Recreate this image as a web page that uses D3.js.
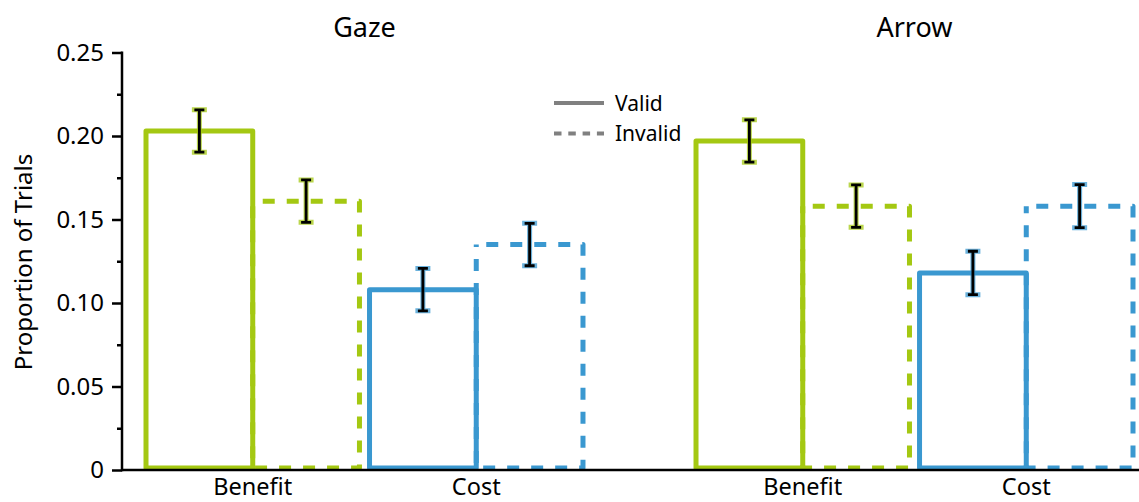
<!DOCTYPE html>
<html>
<head>
<meta charset="utf-8">
<script src="https://cdn.jsdelivr.net/npm/d3@7"></script>
<style>
  html, body { margin: 0; padding: 0; background: #fff; }
  svg { display: block; font-family: "Noto Sans", "Open Sans", sans-serif; }
</style>
</head>
<body>
<svg id="chart" width="1139" height="502"></svg>
<script>
// Panels, conditions and cue types
const panels = ["Gaze", "Arrow"];
const conditions = ["Benefit", "Cost"];
const cueTypes = ["Valid", "Invalid"];

// Mean proportion of trials, ordered Benefit-Valid, Benefit-Invalid, Cost-Valid, Cost-Invalid
const gazeMeans = [0.203, 0.161, 0.108, 0.135];
const arrowMeans = [0.197, 0.158, 0.118, 0.158];

// Error bar half-widths, same order
const gazeErrors = [0.0127, 0.0127, 0.0127, 0.0127];
const arrowErrors = [0.0127, 0.0127, 0.013, 0.0129];

// Y axis ticks
const yMajorTicks = [0, 0.05, 0.10, 0.15, 0.20, 0.25];
const yMinorTicks = [0.025, 0.075, 0.125, 0.175, 0.225];
const yTickLabels = ["0", "0.05", "0.10", "0.15", "0.20", "0.25"];

const conditionColors = { Benefit: "#a4c812", Cost: "#3a98d0" };

const svg = d3.select("#chart");
const baseY = 470;

const y = d3.scaleLinear().domain([0, 0.25]).range([baseY, 52.5]);

const xPanel = d3.scaleBand().domain(panels).range([146, 1133])
  .paddingInner(0.2055).paddingOuter(0);
const xCond = d3.scaleBand().domain(conditions).range([0, xPanel.bandwidth()])
  .paddingInner(0.045).paddingOuter(0);
const xCue = d3.scaleBand().domain(cueTypes).range([0, xCond.bandwidth()])
  .padding(0);

const meansByPanel = { Gaze: gazeMeans, Arrow: arrowMeans };
const errorsByPanel = { Gaze: gazeErrors, Arrow: arrowErrors };

const records = [];
panels.forEach(p => {
  conditions.forEach((c, ci) => {
    cueTypes.forEach((t, ti) => {
      const k = ci * 2 + ti;
      records.push({ panel: p, cond: c, cue: t,
        mean: meansByPanel[p][k], err: errorsByPanel[p][k] });
    });
  });
});

const barX = d => xPanel(d.panel) + xCond(d.cond) + xCue(d.cue);
const bottomY = baseY - 2;

// Bars: invalid (dashed) drawn first so the valid outlines sit on top
const barOrder = records.filter(d => d.cue === "Invalid")
  .concat(records.filter(d => d.cue === "Valid"));

svg.append("g").selectAll("rect")
  .data(barOrder)
  .join("rect")
  .attr("x", barX)
  .attr("y", d => y(d.mean))
  .attr("width", xCue.bandwidth())
  .attr("height", d => bottomY - y(d.mean))
  .attr("fill", "none")
  .attr("stroke", d => conditionColors[d.cond])
  .attr("stroke-width", 5)
  .attr("stroke-linejoin", "round")
  .attr("stroke-dasharray", d => d.cue === "Invalid" ? "12,12" : null)
  .attr("stroke-dashoffset", d => d.cue === "Invalid" ? 14 : null);

// Axes
const yAxis = d3.axisLeft(y)
  .tickValues(yMajorTicks)
  .tickFormat((d, i) => yTickLabels[i])
  .tickSize(10)
  .tickPadding(8)
  .tickSizeOuter(0);

const yAxisG = svg.append("g")
  .attr("transform", "translate(122,0)")
  .call(yAxis);
yAxisG.select(".domain").remove();
yAxisG.selectAll(".tick line").attr("stroke", "#000").attr("stroke-width", 2.5);
yAxisG.selectAll(".tick text")
  .attr("font-size", 24)
  .attr("font-family", "'Noto Sans', sans-serif")
  .attr("fill", "#000");

const yMinor = d3.axisLeft(y).tickValues(yMinorTicks).tickFormat("").tickSize(5).tickSizeOuter(0);
const yMinorG = svg.append("g").attr("transform", "translate(122,0)").call(yMinor);
yMinorG.select(".domain").remove();
yMinorG.selectAll(".tick line").attr("stroke", "#000").attr("stroke-width", 2.5);

svg.append("line")
  .attr("x1", 122).attr("x2", 122)
  .attr("y1", y(0.25) - 1).attr("y2", baseY + 1.2)
  .attr("stroke", "#000").attr("stroke-width", 2.5);

svg.append("line")
  .attr("x1", 122).attr("x2", 1139)
  .attr("y1", baseY).attr("y2", baseY)
  .attr("stroke", "#000").attr("stroke-width", 2.5);

// Error bars: coloured halo under a black core
const errG = svg.append("g");
const capHalf = 5;
records.forEach(d => {
  const cx = barX(d) + xCue.bandwidth() / 2;
  const y1 = y(d.mean + d.err), y2 = y(d.mean - d.err);
  const path = `M${cx},${y1}V${y2}M${cx - capHalf},${y1}H${cx + capHalf}M${cx - capHalf},${y2}H${cx + capHalf}`;
  errG.append("path").attr("d", path)
    .attr("fill", "none").attr("stroke", conditionColors[d.cond])
    .attr("stroke-width", 5).attr("stroke-linecap", "square").attr("opacity", 0.75);
  errG.append("path").attr("d", path)
    .attr("fill", "none").attr("stroke", "#000")
    .attr("stroke-width", 2.8).attr("stroke-linecap", "butt");
});

// Condition labels under each pair of bars
const labelG = svg.append("g");
panels.forEach(p => {
  conditions.forEach(c => {
    labelG.append("text")
      .attr("x", xPanel(p) + xCond(c) + xCond.bandwidth() / 2)
      .attr("y", 495)
      .attr("text-anchor", "middle")
      .attr("font-size", 23.5)
      .attr("fill", "#000")
      .text(c);
  });
  // Panel titles
  svg.append("text")
    .attr("x", xPanel(p) + xPanel.bandwidth() / 2)
    .attr("y", 37)
    .attr("text-anchor", "middle")
    .attr("font-size", 27)
    .attr("fill", "#000")
    .text(p);
});

// Y axis title
svg.append("text")
  .attr("transform", "translate(32,262) rotate(-90)")
  .attr("text-anchor", "middle")
  .attr("font-size", 24)
  .attr("fill", "#000")
  .text("Proportion of Trials");

// Legend
const legend = svg.append("g");
cueTypes.forEach((t, i) => {
  const ly = 103 + i * 30.5;
  legend.append("line")
    .attr("x1", 554).attr("x2", 604)
    .attr("y1", ly).attr("y2", ly)
    .attr("stroke", "#808080").attr("stroke-width", 4)
    .attr("stroke-dasharray", t === "Invalid" ? "7.5,6.8" : null);
  legend.append("text")
    .attr("x", 615).attr("y", ly + 7.5)
    .attr("font-size", 21)
    .attr("fill", "#000")
    .text(t);
});
</script>
</body>
</html>
